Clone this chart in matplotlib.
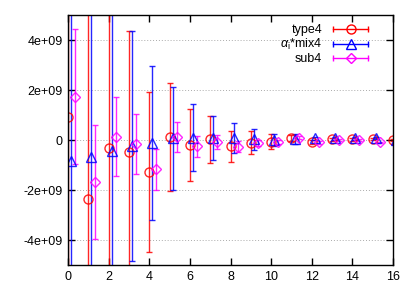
import numpy as np
import matplotlib
matplotlib.use("Agg")
import matplotlib.pyplot as plt
from matplotlib.lines import Line2D
from matplotlib.legend_handler import HandlerLine2D, HandlerTuple

plt.rcParams['font.family'] = ['Liberation Sans', 'DejaVu Sans']
plt.rcParams['mathtext.fontset'] = 'custom'
plt.rcParams['mathtext.rm'] = 'Liberation Sans'
plt.rcParams['mathtext.it'] = 'Liberation Sans:italic'

# data (values in units of 1e9)
x = np.arange(17)
type4 = [0.92, -2.35, -0.30, -0.48, -1.29, 0.13, -0.20, 0.03, -0.24, -0.10,
         -0.07, 0.07, -0.07, 0.04, 0.04, 0.04, 0.0]
type4_err = [12.0, 15.0, 9.0, 4.85, 3.2, 2.16, 1.43, 0.93, 0.62, 0.45,
             0.3, 0.12, 0.08, 0.06, 0.06, 0.05, 0.05]
mix4 = [-0.83, -0.67, -0.43, -0.24, -0.10, 0.07, 0.10, 0.10, 0.07, 0.03,
        0.0, 0.03, 0.07, 0.07, 0.07, 0.07, 0.0]
mix4_err = [12.0, 14.0, 10.0, 4.6, 3.08, 2.05, 1.35, 0.88, 0.6, 0.43,
            0.25, 0.2, 0.07, 0.05, 0.05, 0.04, 0.04]
sub4 = [1.73, -1.67, 0.13, -0.16, -1.17, 0.13, -0.25, -0.07, -0.27, -0.10,
        -0.09, 0.10, -0.09, 0.0, 0.0, -0.09, 0.0]
sub4_err = [2.7, 2.27, 1.58, 1.2, 0.83, 0.6, 0.42, 0.27, 0.22, 0.12,
            0.08, 0.06, 0.05, 0.04, 0.04, 0.03, 0.03]

series = [
    ('type4', 0.0, type4, type4_err, '#ff0000', 'o'),
    (r'$\alpha_{\rm i}$*mix4', 0.15, mix4, mix4_err, '#0000ff', '^'),
    ('sub4', 0.35, sub4, sub4_err, '#ff00ff', 'D'),
]

fig = plt.figure(figsize=(4.15, 2.91), dpi=100)
ax = fig.add_axes([0.164, 0.089, 0.783, 0.859])

handles = []
labels = []
hmap = {}
for name, off, vals, errs, col, mk in series:
    ms = 5 if mk == 'D' else 6.5
    ax.errorbar(x + off, np.array(vals) * 1e9, yerr=np.array(errs) * 1e9,
                fmt=mk, color=col, mfc='none', mec=col, ms=ms, mew=1,
                ecolor=col, elinewidth=1, capsize=2, capthick=1, alpha=0.85)
    bar = Line2D([], [], color=col, lw=1, marker='|', ms=5, mew=1)
    pt = Line2D([], [], color=col, ls='none', marker=mk, mfc='none', ms=ms, mew=1)
    hmap[bar] = HandlerLine2D(numpoints=2)
    hmap[pt] = HandlerLine2D(numpoints=1)
    handles.append((bar, pt))
    labels.append(name)

hmap[tuple] = HandlerTuple(ndivide=1)
ax.legend(handles, labels, handler_map=hmap,
          loc='upper right', bbox_to_anchor=(0.955, 0.99), frameon=False,
          markerfirst=False, fontsize=9, handlelength=3.4, handletextpad=0.6,
          labelspacing=0.1, borderpad=0)

ax.set_xlim(0, 16)
ax.set_ylim(-5e9, 5e9)
ax.set_xticks(np.arange(0, 17, 2))
yt = [-4e9, -2e9, 0, 2e9, 4e9]
ax.set_yticks(yt)
ax.set_yticklabels(['-4e+09', '-2e+09', '0', '2e+09', '4e+09'])
ax.yaxis.grid(True, color='#aaaaaa', ls=(0, (1, 2)), lw=0.7)
ax.tick_params(direction='in', top=True, right=True, length=5, width=1,
               labelsize=9, pad=4)
for s in ax.spines.values():
    s.set_linewidth(1)

fig.savefig('out.png', dpi=100)
